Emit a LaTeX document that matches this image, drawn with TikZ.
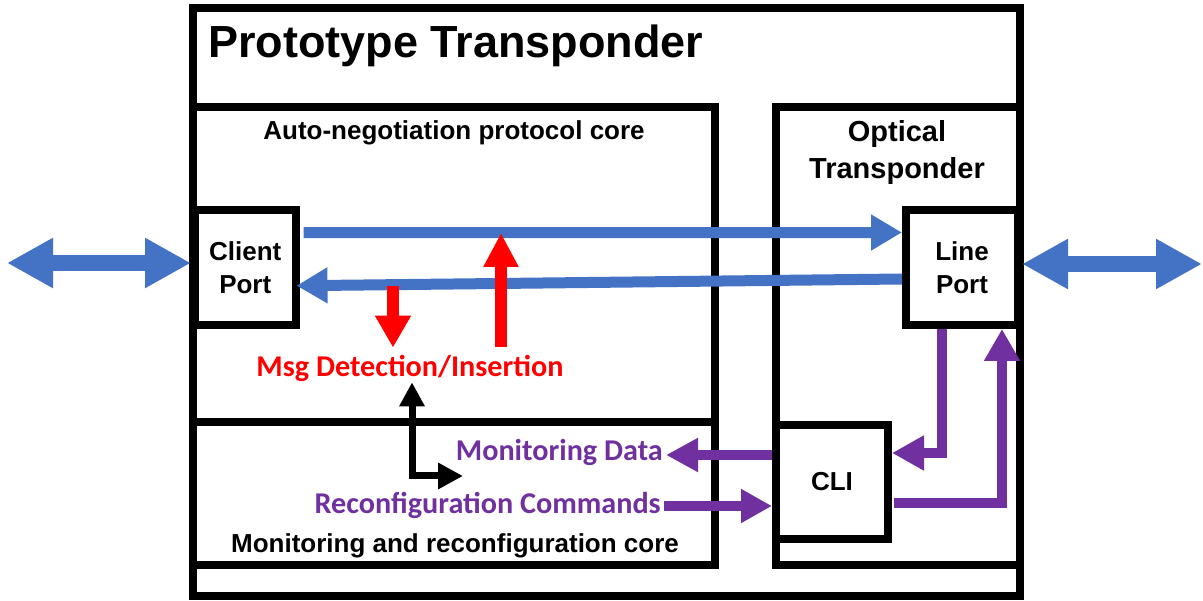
\documentclass[tikz,border=0pt]{standalone}
\usepackage{fontspec}
\setmainfont{Liberation Sans}
\newfontfamily\calfont{Carlito}
\usetikzlibrary{arrows.meta,calc}
\definecolor{arrowblue}{HTML}{4472C4}
\definecolor{msgpurple}{HTML}{7030A0}
\definecolor{msgred}{HTML}{FF0000}
\begin{document}
\begin{tikzpicture}[x=1pt,y=-1pt,
  boxline/.style={draw=black, line width=8pt, inner sep=0pt},
  portbox/.style={boxline, fill=white, font=\bfseries\fontsize{26}{33}\selectfont, align=center},
  lbl/.style={inner sep=0pt, font=\bfseries\fontsize{26}{31}\selectfont},
  callbl/.style={inner sep=0pt, font=\calfont\bfseries\fontsize{30.2}{36}\selectfont},
  bluearrow/.style={draw=arrowblue, line width=11pt, -{Triangle[length=31pt,width=34pt]}},
  dblblue/.style={draw=arrowblue, line width=16pt, {Triangle[length=46pt,width=47pt]}-{Triangle[length=46pt,width=47pt]}},
  redarrow/.style={draw=msgred, line width=12pt, -{Triangle[length=32pt,width=34pt]}},
  purplearrow/.style={draw=msgpurple, line width=10pt, -{Triangle[length=32pt,width=33pt]}},
  blackarrow/.style={draw=black, line width=7pt, {Triangle[length=24pt,width=24pt]}-{Triangle[length=25pt,width=25pt]}}
]
\useasboundingbox[fill=white] (0,0) rectangle (1203,601);

% boxes
\node[boxline, minimum width=827pt, minimum height=588pt] (outer) at (606.5,302) {};
\node[boxline, minimum width=522pt, minimum height=314.5pt] (anbox) at (454,264.75) {};
\node[boxline, minimum width=522pt, minimum height=143pt] (mrbox) at (454,493.5) {};
\node[boxline, minimum width=244pt, minimum height=457.5pt] (otbox) at (898,336.25) {};
\node[portbox, minimum width=100.5pt, minimum height=115.5pt] (cp) at (245.25,267.75) {Client\\Port};
\node[portbox, minimum width=112pt, minimum height=115pt] (lp) at (962,267.5) {Line\\Port};
\node[portbox, minimum width=112pt, minimum height=114pt] (cli) at (832,482) {CLI};

% labels
\node[inner sep=0pt, anchor=base west, font=\bfseries\fontsize{45}{54}\selectfont] (title) at (208,58) {Prototype Transponder};
\node[lbl, anchor=base] (anlabel) at (454,140) {Auto-negotiation protocol core};
\node[lbl, anchor=base] (mrlabel) at (455,553) {Monitoring and reconfiguration core};
\node[lbl, align=center, font=\bfseries\fontsize{29}{37}\selectfont] (otlabel) at (897,153) {Optical\\Transponder};
\node[callbl, anchor=base, text=msgred] (msg) at (410,377) {Msg Detection/Insertion};
\node[callbl, anchor=base east, text=msgpurple, inner xsep=3pt] (md) at (666,461) {Monitoring Data};
\node[callbl, anchor=base east, text=msgpurple, inner xsep=3pt] (rc) at (664,514) {Reconfiguration Commands};

% blue arrows
\draw[bluearrow] ([xshift=4pt,yshift=35pt]cp.east) -- ([yshift=35pt]lp.west);
\draw[bluearrow] ([yshift=-11.5pt]lp.west) -- ([xshift=-3pt,yshift=-18pt]cp.east);
\coordinate (lfree) at (7,263);
\coordinate (rfree) at (1202,264);
\draw[dblblue] (lfree) -- (cp.west |- lfree);
\draw[dblblue] (lp.east |- rfree) -- (rfree);

% red arrows
\coordinate (rdn) at (393,286);
\coordinate (rup) at (501,347);
\coordinate (rupend) at (501,233);
\draw[redarrow] (rdn) -- ($(rdn |- msg.north)+(0,-8)$);
\draw[redarrow, -{Triangle[length=34pt,width=33pt]}] (rup) -- (rupend);

% black arrow
\coordinate (bx) at (412,476);
\coordinate (bend) at (463,476);
\draw[blackarrow] (bx |- msg.south) -- (bx) -- (bend);

% purple arrows
\coordinate (mdy) at ([yshift=27pt]cli.west);
\coordinate (rcy) at ([yshift=-24pt]cli.west);
\draw[purplearrow, -{Triangle[length=32pt,width=32pt]}] (mdy) -- (md.east |- mdy);
\draw[purplearrow, -{Triangle[length=31pt,width=32pt]}] (rc.east |- rcy) -- (rcy);
\draw[purplearrow] ([xshift=-20pt]lp.south) |- ([yshift=29pt]cli.east);
\draw[purplearrow, -{Triangle[length=32pt,width=34pt]}] ([xshift=2pt,yshift=-21pt]cli.east) -| ([xshift=40pt]lp.south);
\end{tikzpicture}
\end{document}
